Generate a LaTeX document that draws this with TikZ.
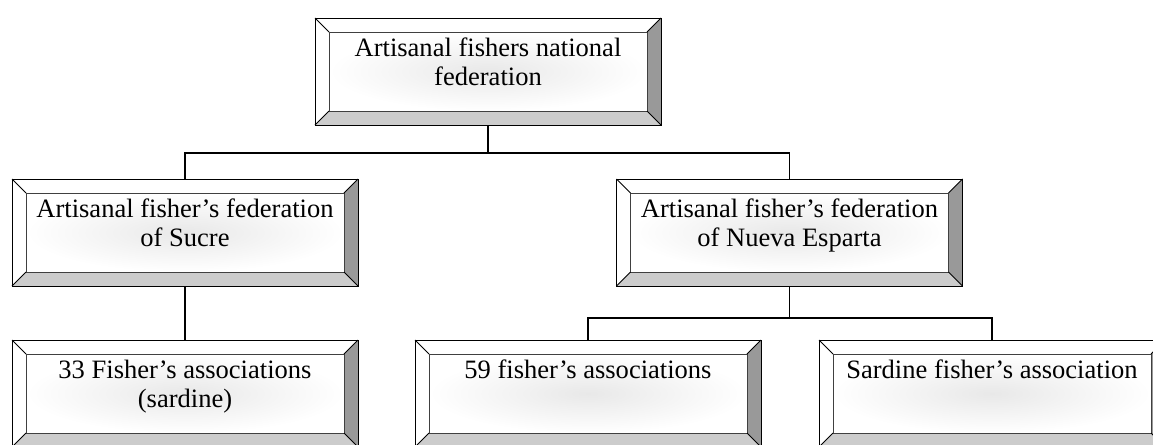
\documentclass[tikz,border=0pt]{standalone}
\usepackage{fontspec}
\setmainfont{Liberation Serif}
\usetikzlibrary{calc}

\tikzset{
  boxshape/.style={rectangle, minimum width=259.5pt, minimum height=80.25pt,
                   inner sep=0pt, outer sep=0pt},
  facefill/.style={inner color=black!9, outer color=white},
  darkbevel/.style={fill=black!40},
  midbevel/.style={fill=black!20},
  edge/.style={draw=black, line width=0.75pt, line join=miter},
  inneredge/.style={draw=black!75, line width=0.75pt},
  boxtext/.style={anchor=north, align=center, inner sep=0pt,
                  font=\fontsize{19.9pt}{22pt}\selectfont},
  conn/.style={draw=black, line width=1.2pt},
}

% bevelled box: name, centre x, centre y, text
\newcommand\bevelbox[4]{%
  \node[boxshape] (#1) at (#2,#3) {};
  \coordinate (#1-a) at ($(#1.north west)+(14,14)$);
  \coordinate (#1-b) at ($(#1.north east)+(-14,14)$);
  \coordinate (#1-c) at ($(#1.south east)+(-14,-14)$);
  \coordinate (#1-d) at ($(#1.south west)+(14,-14)$);
  \fill[white] (#1.north west) rectangle (#1.south east);
  \shade[facefill] (#1-a) rectangle (#1-c);
  \fill[darkbevel] (#1.north east) -- (#1.south east) -- (#1-c) -- (#1-b) -- cycle;
  \fill[midbevel] (#1.south west) -- (#1.south east) -- (#1-c) -- (#1-d) -- cycle;
  \draw[inneredge] (#1-a) rectangle (#1-c);
  \draw[edge] (#1.north west) -- (#1-a) (#1.north east) -- (#1-b)
              (#1.south east) -- (#1-c) (#1.south west) -- (#1-d);
  \draw[edge] (#1.north west) rectangle (#1.south east);
  \node[boxtext] (#1-text) at ($(#1.north)+(0,19.4)$) {#4};
}

\begin{document}
\begin{tikzpicture}[x=0.75pt, y=-0.75pt]
  \useasboundingbox (0,0) rectangle (1153,444);
  \clip (0,0) rectangle (1153,444);

  % junction points of the tree
  \coordinate (j1) at (488,153);
  \coordinate (j2) at (789.5,318);

  \bevelbox{nat}{488}{71.5}{Artisanal fishers national\\federation}
  \bevelbox{sucre}{185}{232.5}{Artisanal fisher’s federation\\of Sucre}
  \bevelbox{nueva}{789.5}{232.5}{Artisanal fisher’s federation\\of Nueva Esparta}
  \bevelbox{thirty}{185}{393.5}{33 Fisher’s associations\\(sardine)}
  \bevelbox{fifty}{588}{393.5}{59 fisher’s associations}
  \bevelbox{sardine}{992}{393.5}{Sardine fisher’s association}

  % connectors
  \draw[conn] (nat.south) -- (nat.south |- j1);
  \draw[conn] (sucre.north) |- (j1) -| (nueva.north);
  \draw[conn] (sucre.south) -- (thirty.north);
  \draw[conn] (nueva.south) -- (j2);
  \draw[conn] (fifty.north) |- (j2) -| (sardine.north);
\end{tikzpicture}
\end{document}
